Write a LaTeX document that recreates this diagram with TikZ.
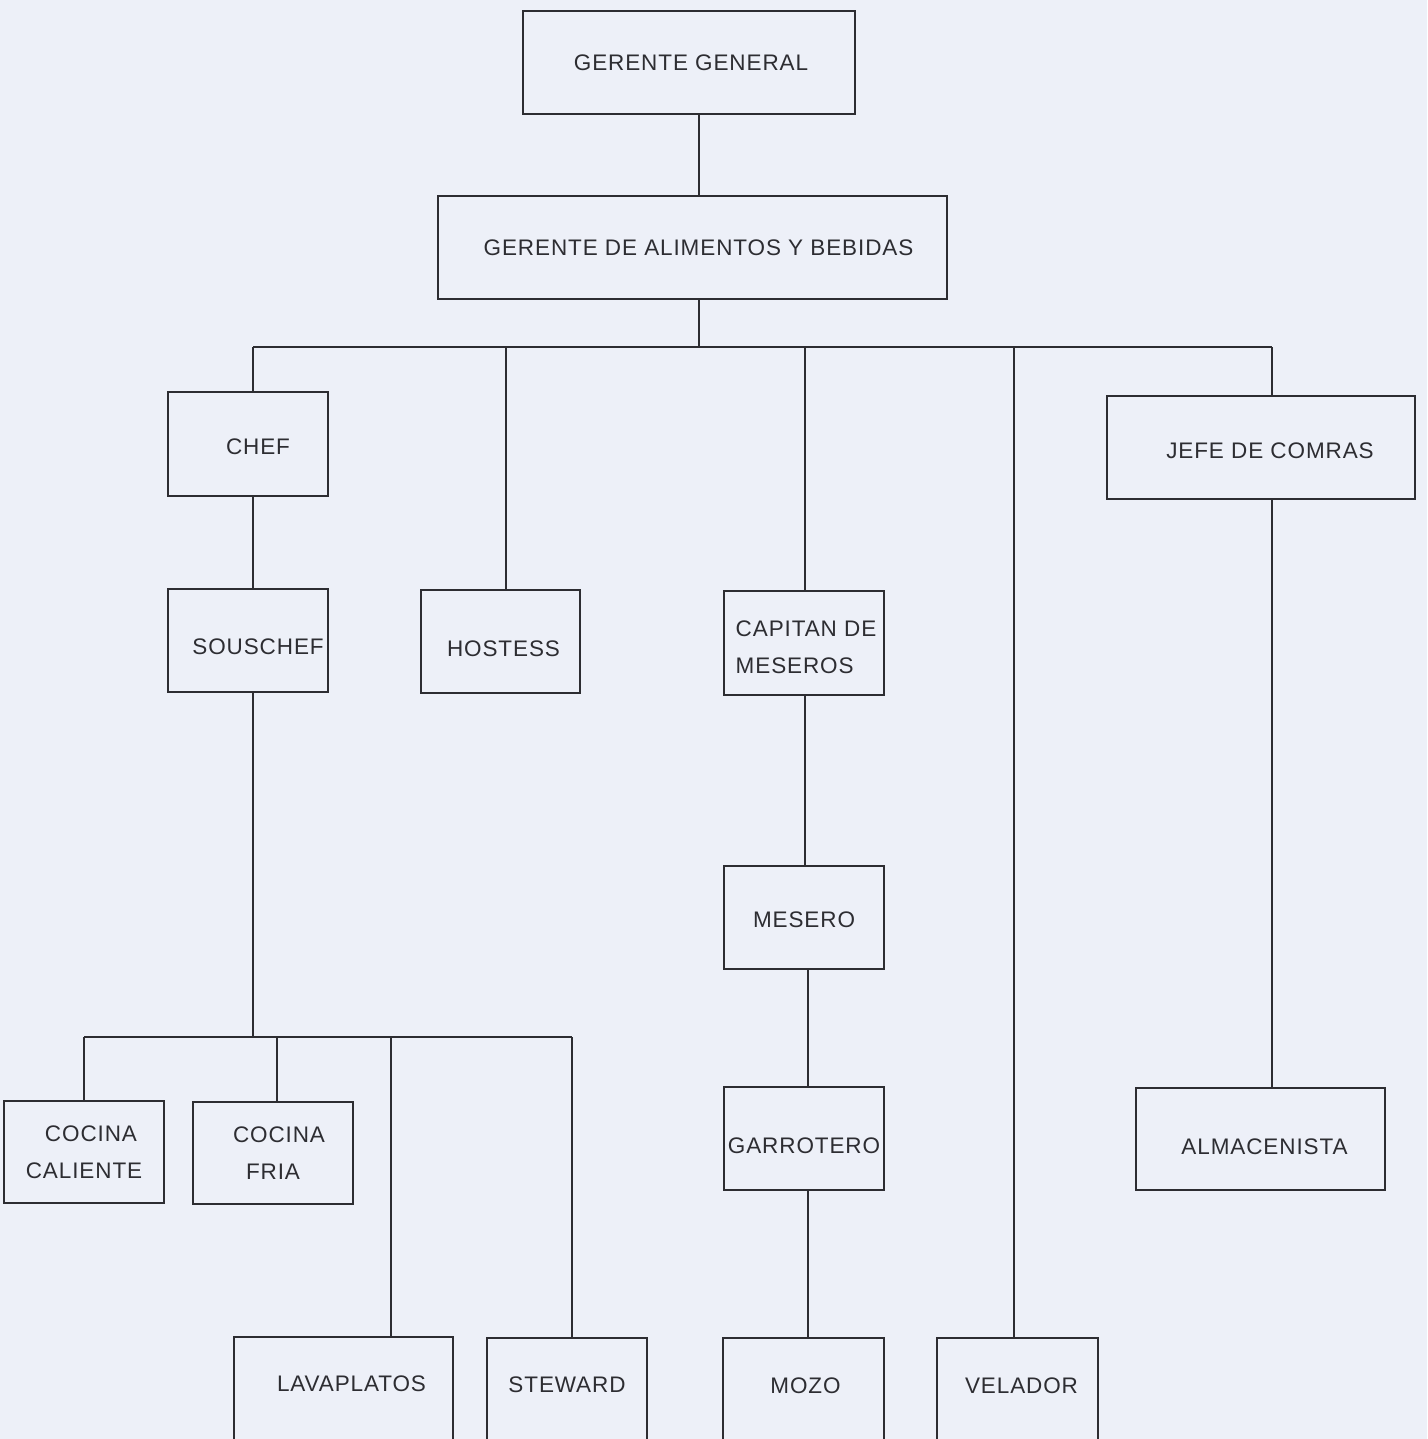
\documentclass[tikz,border=0pt]{standalone}
\usepackage{fontspec}
\setmainfont[LetterSpace=4]{Liberation Sans}
\definecolor{bg}{RGB}{237,240,248}
\definecolor{ink}{RGB}{45,45,50}
\tikzset{
  box/.style={draw=ink, line width=1.4pt, text=ink, inner sep=0pt, align=center,
    font=\fontsize{22.5}{37}\selectfont},
  conn/.style={draw=ink, line width=1.4pt},
}
\newcommand\dn[1]{\rule{0pt}{#1pt}}
\newcommand\up[1]{\rule[-#1pt]{0pt}{#1pt}}
\begin{document}
\begin{tikzpicture}[x=1pt,y=-1pt]
\useasboundingbox (0,0) rectangle (1427,1439);
\fill[bg] (0,0) rectangle (1427,1439);
\clip (0,0) rectangle (1427,1439);

% nodes
\node[box, minimum width=332, minimum height=103] (gg) at (689,62.5) {\hspace*{4pt}GERENTE GENERAL};
\node[box, minimum width=509, minimum height=103] (gab) at (692.5,247.5) {\hspace*{12pt}GERENTE DE ALIMENTOS Y BEBIDAS};
\node[box, minimum width=160, minimum height=104] (chef) at (248,444) {\dn{22}\hspace*{20pt}CHEF};
\node[box, minimum width=160, minimum height=103] (sous) at (248,640.5) {\dn{28}\hspace*{20pt}SOUSCHEF};
\node[box, minimum width=159, minimum height=103] (host) at (500.5,641.5) {\dn{30}\hspace*{6pt}HOSTESS};
\node[box, minimum width=160, minimum height=104, align=left] (cap) at (804,643) {\dn{24}\hspace*{4pt}CAPITAN DE\\\hspace*{4pt}MESEROS};
\node[box, minimum width=308, minimum height=103] (jefe) at (1261,447.5) {\dn{22}\hspace*{18pt}JEFE DE COMRAS};
\node[box, minimum width=160, minimum height=103] (mes) at (804,917.5) {\dn{20}MESERO};
\node[box, minimum width=160, minimum height=103] (garr) at (804,1138.5) {\dn{30}GARROTERO};
\node[box, minimum width=249, minimum height=102] (alm) at (1260.5,1139) {\dn{32}\hspace*{8pt}ALMACENISTA};
\node[box, minimum width=160, minimum height=102] (cc) at (84,1152) {\hspace*{14pt}COCINA\\CALIENTE};
\node[box, minimum width=160, minimum height=102] (cf) at (273,1153) {\hspace*{12pt}COCINA\\FRIA};
\node[box, minimum width=219, minimum height=103] (lav) at (343.5,1388.5) {\up{10}\hspace*{16pt}LAVAPLATOS};
\node[box, minimum width=160, minimum height=103] (stew) at (567,1389.5) {\up{10}STEWARD};
\node[box, minimum width=161, minimum height=103] (mozo) at (803.5,1389.5) {\up{8}\hspace*{4pt}MOZO};
\node[box, minimum width=161, minimum height=103] (vel) at (1017.5,1389.5) {\up{8}\hspace*{8pt}VELADOR};

% junction coordinates
\coordinate (j1) at (699,347);
\coordinate (tchef) at (253,347);
\coordinate (thost) at (506,347);
\coordinate (tcap) at (805,347);
\coordinate (tvel) at (1014,347);
\coordinate (tjefe) at (1272,347);
\coordinate (s2) at (253,1037);
\coordinate (c1) at (84,1037);
\coordinate (c2) at (277,1037);
\coordinate (c3) at (391,1037);
\coordinate (c4) at (572,1037);
\coordinate (colg) at (808,1000);

% connectors
\draw[conn] (gg.south -| j1) -- (gab.north -| j1);
\draw[conn] (gab.south -| j1) -- (j1);
\draw[conn] (tchef) -- (tjefe);
\draw[conn] (tchef) -- (chef.north -| tchef);
\draw[conn] (thost) -- (host.north -| thost);
\draw[conn] (tcap) -- (cap.north -| tcap);
\draw[conn] (tvel) -- (vel.north -| tvel);
\draw[conn] (tjefe) -- (jefe.north -| tjefe);
\draw[conn] (jefe.south -| tjefe) -- (alm.north -| tjefe);
\draw[conn] (chef.south -| tchef) -- (sous.north -| tchef);
\draw[conn] (sous.south -| s2) -- (s2);
\draw[conn] (c1) -- (c4);
\draw[conn] (c1) -- (cc.north -| c1);
\draw[conn] (c2) -- (cf.north -| c2);
\draw[conn] (c3) -- (lav.north -| c3);
\draw[conn] (c4) -- (stew.north -| c4);
\draw[conn] (cap.south -| tcap) -- (mes.north -| tcap);
\draw[conn] (mes.south -| colg) -- (garr.north -| colg);
\draw[conn] (garr.south -| colg) -- (mozo.north -| colg);
\end{tikzpicture}
\end{document}
